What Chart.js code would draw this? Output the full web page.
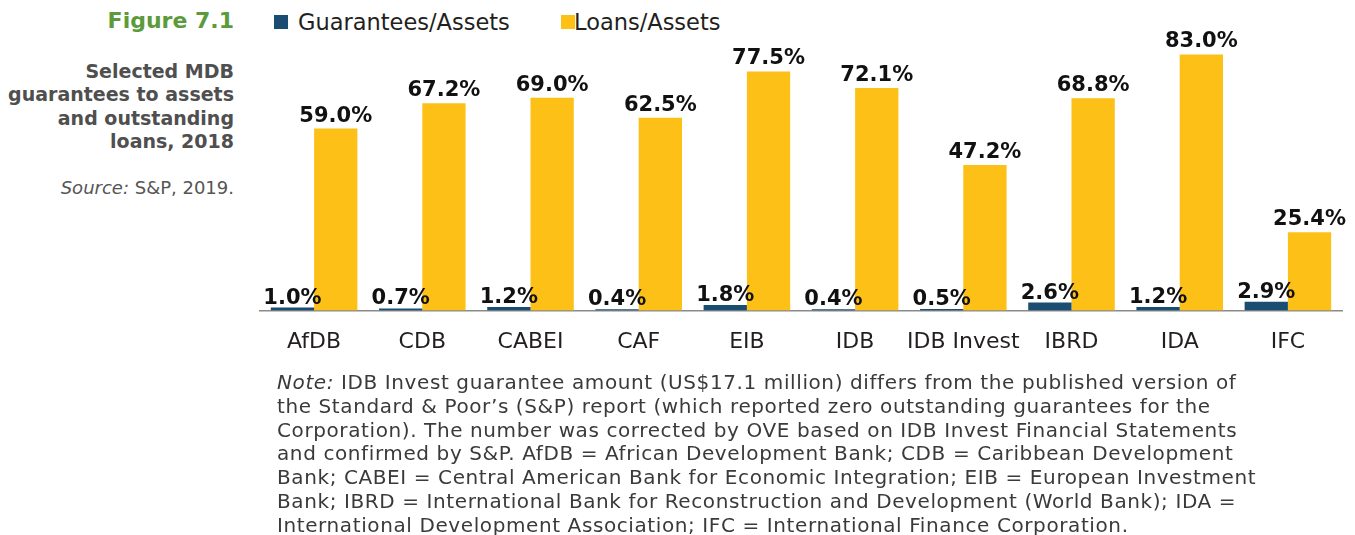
<!DOCTYPE html>
<html><head><meta charset="utf-8">
<script src="https://cdn.jsdelivr.net/npm/chart.js@4/dist/chart.umd.min.js"></script>
<style>
html,body{margin:0;padding:0;background:#fff;}
body{width:1355px;height:535px;position:relative;overflow:hidden;font-family:"DejaVu Sans",sans-serif;}
#side{position:absolute;left:0;top:0;width:234px;text-align:right;}
#fig{position:absolute;right:0;top:8px;font-weight:bold;font-size:22px;color:#5b9b3c;white-space:nowrap;}
#sub{position:absolute;right:0;top:60px;font-weight:bold;font-size:19px;line-height:23.3px;color:#4f4f4f;white-space:nowrap;}
#src{position:absolute;right:0;top:177px;font-size:18px;color:#555;white-space:nowrap;}
#legend{position:absolute;left:0;top:0;}
.sw{position:absolute;width:14px;height:14px;top:15px;}
.lt{position:absolute;top:9px;font-size:22.5px;color:#231f20;white-space:nowrap;line-height:26px;}
#wrap{position:absolute;left:255px;top:0;width:1100px;height:379px;}
#note{position:absolute;left:277px;top:371px;font-size:20px;letter-spacing:0.6px;line-height:23.8px;color:#3a3a3a;white-space:nowrap;}
</style></head>
<body>
<div id="side">
  <div id="fig">Figure 7.1</div>
  <div id="sub">Selected MDB<br>guarantees to assets<br>and outstanding<br>loans, 2018</div>
  <div id="src"><i>Source:</i> S&amp;P, 2019.</div>
</div>
<div id="legend"></div>
<div id="wrap"><canvas id="c"></canvas></div>
<div id="note"><i>Note:</i> IDB Invest guarantee amount (US$17.1 million) differs from the published version of<br>the Standard &amp; Poor’s (S&amp;P) report (which reported zero outstanding guarantees for the<br>Corporation). The number was corrected by OVE based on IDB Invest Financial Statements<br>and confirmed by S&amp;P. AfDB = African Development Bank; CDB = Caribbean Development<br>Bank; CABEI = Central American Bank for Economic Integration; EIB = European Investment<br>Bank; IBRD = International Bank for Reconstruction and Development (World Bank); IDA =<br>International Development Association; IFC = International Finance Corporation.</div>
<script>
const categories = ["AfDB","CDB","CABEI","CAF","EIB","IDB","IDB Invest","IBRD","IDA","IFC"];
const guarantees = [1.0,0.7,1.2,0.4,1.8,0.4,0.5,2.6,1.2,2.9];
const loans = [59.0,67.2,69.0,62.5,77.5,72.1,47.2,68.8,83.0,25.4];
const seriesNames = ["Guarantees/Assets","Loans/Assets"];
const seriesColors = ["#1a4d72","#fcc016"];

// HTML legend
const leg = document.getElementById('legend');
const legPos = [[274,298],[561,574]];
seriesNames.forEach((n,i)=>{
  const s=document.createElement('div');s.className='sw';s.style.left=legPos[i][0]+'px';s.style.background=seriesColors[i];leg.appendChild(s);
  const t=document.createElement('div');t.className='lt';t.style.left=legPos[i][1]+'px';t.textContent=n;leg.appendChild(t);
});

const labelOffsets = [4,7];
const labelPlugin = {
  id:'valueLabels',
  afterDatasetsDraw(chart){
    const ctx=chart.ctx;
    ctx.save();
    ctx.font='bold 21px "DejaVu Sans"';
    ctx.fillStyle='#111';
    ctx.textAlign='center';
    ctx.textBaseline='alphabetic';
    chart.data.datasets.forEach((ds,di)=>{
      const meta=chart.getDatasetMeta(di);
      meta.data.forEach((bar,i)=>{
        ctx.fillText(ds.data[i].toFixed(1)+'%', bar.x, bar.y-labelOffsets[di]);
      });
    });
    ctx.restore();
  }
};

new Chart(document.getElementById('c'),{
  type:'bar',
  data:{labels:categories,datasets:[
    {label:seriesNames[0],data:guarantees,backgroundColor:seriesColors[0]},
    {label:seriesNames[1],data:loans,backgroundColor:seriesColors[1]}
  ]},
  options:{
    responsive:true,maintainAspectRatio:false,animation:false,
    layout:{padding:{left:5,right:13,top:2,bottom:6}},
    categoryPercentage:0.8,barPercentage:1.0,
    plugins:{legend:{display:false},tooltip:{enabled:false}},
    scales:{
      x:{grid:{display:false,drawTicks:false},border:{display:true,color:'#8a8a8a',width:1.5},
         ticks:{padding:18,maxRotation:0,minRotation:0,autoSkip:false,color:'#231f20',font:{family:'DejaVu Sans',size:22}}},
      y:{display:false,min:0,max:100}
    }
  },
  plugins:[labelPlugin]
});
</script>
</body></html>
